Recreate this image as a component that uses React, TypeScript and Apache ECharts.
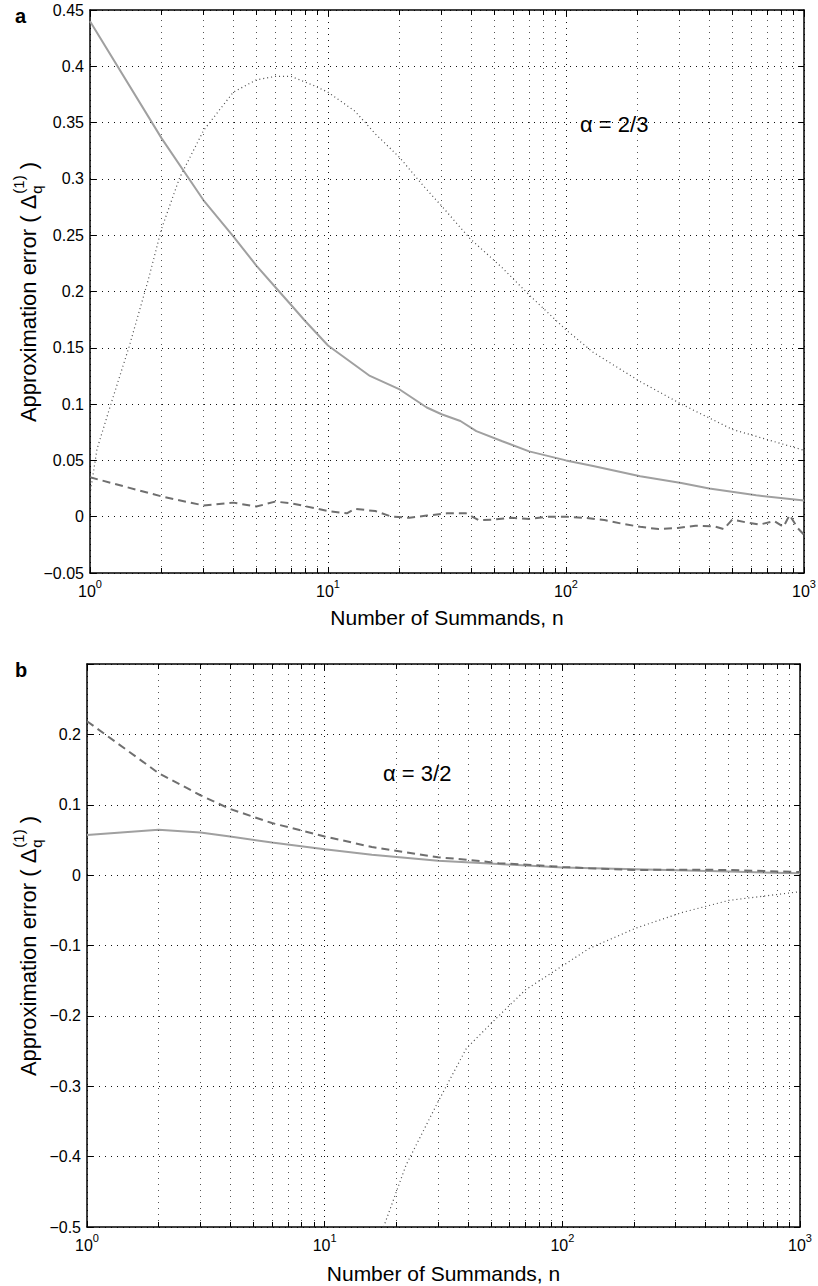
import React, { useEffect, useRef } from "react";
import * as echarts from "echarts";

// ---------------- Data ----------------
// Panel a : alpha = 2/3
const aSolidN = [1, 2, 3, 4, 5, 6, 7, 8, 10, 15, 20, 26, 30, 36, 42, 54, 70, 100, 130, 205, 305, 400, 630, 1000];
const aSolidV = [0.44, 0.336, 0.281, 0.249, 0.223, 0.204, 0.188, 0.174, 0.152, 0.125, 0.113, 0.097, 0.091, 0.085, 0.076, 0.067, 0.058, 0.05, 0.045, 0.036, 0.03, 0.025, 0.019, 0.0143];

const aDottedN = [1, 1.07, 1.22, 1.46, 1.75, 2, 2.38, 3, 4, 5, 6, 7, 8.7, 10, 13, 15.8, 20, 25, 30, 39.5, 54, 70, 100, 130, 205, 305, 500, 1000];
const aDottedV = [0.02, 0.06, 0.099, 0.151, 0.209, 0.256, 0.301, 0.343, 0.377, 0.388, 0.391, 0.391, 0.383, 0.377, 0.36, 0.34, 0.319, 0.2945, 0.276, 0.247, 0.221, 0.197, 0.166, 0.146, 0.12, 0.1, 0.0775, 0.059];

const aDashedN = [1, 2, 3, 4, 5, 6, 7, 10, 12, 13, 15.8, 18.5, 22, 26, 31.6, 38, 43, 50, 59, 70, 84, 100, 120, 145, 170, 205, 245, 295, 350, 420, 460, 500, 570, 650, 750, 820, 870, 940, 1000];
const aDashedV = [0.035, 0.018, 0.01, 0.0125, 0.009, 0.0134, 0.012, 0.005, 0.003, 0.007, 0.005, 0, -0.001, 0.001, 0.003, 0.003, -0.003, -0.0025, -0.001, -0.002, 0, 0, -0.001, -0.003, -0.006, -0.009, -0.011, -0.01, -0.008, -0.0085, -0.011, -0.0025, -0.005, -0.007, -0.004, -0.009, 0.0015, -0.01, -0.016];

// Panel b : alpha = 3/2
const bSolidN = [1, 2, 3, 4, 6, 10, 15.8, 30, 54, 100, 205, 500, 1000];
const bSolidV = [0.057, 0.0646, 0.0607, 0.0548, 0.0465, 0.0367, 0.029, 0.0205, 0.0157, 0.011, 0.0083, 0.005, 0.0025];

const bDashedN = [1, 2, 3, 4, 6, 10, 15.8, 30, 39.5, 54, 100, 130, 205, 320, 500, 1000];
const bDashedV = [0.2187, 0.145, 0.1135, 0.094, 0.074, 0.055, 0.04, 0.0254, 0.022, 0.017, 0.0117, 0.0098, 0.0073, 0.0078, 0.0073, 0.0044];

const bDottedN = [17.7, 22, 30, 39.5, 54, 70, 100, 130, 205, 320, 500, 1000];
const bDottedV = [-0.5, -0.412, -0.322, -0.246, -0.2, -0.163, -0.129, -0.104, -0.075, -0.053, -0.036, -0.0235];

// Axes
const xMin = 1;
const xMax = 1000;
const minorN = [2, 3, 4, 5, 6, 7, 8, 9, 20, 30, 40, 50, 60, 70, 80, 90, 200, 300, 400, 500, 600, 700, 800, 900];
const aYRange = [-0.05, 0.45];
const aYStep = 0.05;
const bYRange = [-0.5, 0.3];
const bYStep = 0.1;
const xTitle = "Number of Summands, n";
const panelLetters = ["a", "b"];
const alphaLabels = ["\u03b1 = 2/3", "\u03b1 = 3/2"];

// ---------------- Styling ----------------
const FONT = "'Liberation Sans', Arial, Helvetica, sans-serif";
const BLACK = "#000";
const SOLID_COLOR = "#a0a0a0";
const DASH_COLOR = "#6f6f6f";
const DOT_COLOR = "#4a4a4a";

const zip = (n: number[], v: number[]) => n.map((x, i) => [x, v[i]]);

function fmtY(v: number, hideTop?: number) {
  if (hideTop !== undefined && Math.abs(v - hideTop) < 1e-6) return "";
  const r = Math.round(v * 100) / 100;
  if (Math.abs(r) < 1e-9) return "0";
  return String(r).replace("-", "\u2212");
}

function measure(text: string, font: string) {
  const c = document.createElement("canvas").getContext("2d");
  if (!c) return text.length * 10;
  c.font = font;
  return c.measureText(text).width;
}

export default function App() {
  const ref = useRef<HTMLDivElement>(null);

  useEffect(() => {
    if (!ref.current) return;
    const chart = echarts.init(ref.current, undefined, { renderer: "svg" });

    const grids = [
      { left: 90, top: 10, width: 714, height: 563 },
      { left: 87, top: 664, width: 713, height: 563 },
    ];
    const yRanges = [aYRange, bYRange];
    const ySteps = [aYStep, bYStep];
    const nameGaps = [34, 36];
    const tickPx = 5;

    const xAxes: any[] = [];
    const yAxes: any[] = [];
    const series: any[] = [];

    grids.forEach((g, gi) => {
      const [ymin, ymax] = yRanges[gi];
      const hideTop = gi === 1 ? ymax : undefined;
      const axisLine = { show: true, onZero: false, lineStyle: { color: BLACK, width: 1.5 } };
      const axisTick = { show: true, inside: true, length: 6, lineStyle: { color: BLACK, width: 1 } };
      xAxes.push({
        type: "log",
        logBase: 10,
        gridIndex: gi,
        min: xMin,
        max: xMax,
        position: "bottom",
        axisLine,
        axisTick,
        axisLabel: {
          margin: 5,
          formatter: (v: number) => `{b|10}{s|${Math.round(Math.log10(v))}}`,
          rich: {
            b: { fontSize: 16, lineHeight: 26, fontFamily: FONT, color: BLACK },
            s: { fontSize: 11, lineHeight: 12, verticalAlign: "top", fontFamily: FONT, color: BLACK },
          },
        },
        splitLine: { show: true, lineStyle: { type: [1, 5], color: "#111", width: 1 } },
        name: xTitle,
        nameLocation: "middle",
        nameGap: nameGaps[gi],
        nameTextStyle: { fontSize: 21, fontFamily: FONT, color: BLACK },
      });
      xAxes.push({
        type: "log",
        logBase: 10,
        gridIndex: gi,
        min: xMin,
        max: xMax,
        position: "top",
        axisLine,
        axisTick,
        axisLabel: { show: false },
        splitLine: { show: false },
      });
      yAxes.push({
        type: "value",
        gridIndex: gi,
        min: ymin,
        max: ymax,
        interval: ySteps[gi],
        position: "left",
        axisLine,
        axisTick,
        axisLabel: {
          margin: 6,
          fontSize: 16,
          fontFamily: FONT,
          color: BLACK,
          formatter: (v: number) => fmtY(v, hideTop),
        },
        splitLine: { show: true, lineStyle: { type: [1, 5], color: "#111", width: 1 } },
      });
      yAxes.push({
        type: "value",
        gridIndex: gi,
        min: ymin,
        max: ymax,
        interval: ySteps[gi],
        position: "right",
        axisLine,
        axisTick,
        axisLabel: { show: false },
        splitLine: { show: false },
      });

      const tick = ((ymax - ymin) / g.height) * tickPx;
      const minorGrid = minorN.map((n) => ({
        xAxis: n,
        lineStyle: { type: [1, 5], color: "#555", width: 1 },
      }));
      const minorTicksBottom = minorN.map((n) => [
        { coord: [n, ymin], lineStyle: { type: "solid", color: BLACK, width: 1 } },
        { coord: [n, ymin + tick] },
      ]);
      const minorTicksTop = minorN.map((n) => [
        { coord: [n, ymax], lineStyle: { type: "solid", color: BLACK, width: 1 } },
        { coord: [n, ymax - tick] },
      ]);
      series.push({
        type: "line",
        name: "grid" + gi,
        xAxisIndex: gi * 2,
        yAxisIndex: gi * 2,
        data: [],
        silent: true,
        z: 1,
        markLine: {
          silent: true,
          symbol: ["none", "none"],
          label: { show: false },
          emphasis: { disabled: true },
          animation: false,
          data: [...minorGrid, ...minorTicksBottom, ...minorTicksTop],
        },
      });
    });

    const lineBase = {
      type: "line",
      symbol: "none",
      showSymbol: false,
      silent: true,
      z: 3,
    };
    // panel a
    series.push({ ...lineBase, name: "a-solid", xAxisIndex: 0, yAxisIndex: 0, data: zip(aSolidN, aSolidV), lineStyle: { color: SOLID_COLOR, width: 2 } });
    series.push({ ...lineBase, name: "a-dotted", xAxisIndex: 0, yAxisIndex: 0, data: zip(aDottedN, aDottedV), lineStyle: { color: DOT_COLOR, width: 1.2, type: [1, 3] } });
    series.push({ ...lineBase, name: "a-dashed", xAxisIndex: 0, yAxisIndex: 0, data: zip(aDashedN, aDashedV), lineStyle: { color: DASH_COLOR, width: 2, type: [8, 5] } });
    // panel b
    series.push({ ...lineBase, name: "b-solid", xAxisIndex: 2, yAxisIndex: 2, data: zip(bSolidN, bSolidV), lineStyle: { color: SOLID_COLOR, width: 2 } });
    series.push({ ...lineBase, name: "b-dashed", xAxisIndex: 2, yAxisIndex: 2, data: zip(bDashedN, bDashedV), lineStyle: { color: DASH_COLOR, width: 2, type: [8, 5] } });
    series.push({ ...lineBase, name: "b-dotted", xAxisIndex: 2, yAxisIndex: 2, data: zip(bDottedN, bDottedV), lineStyle: { color: DOT_COLOR, width: 1.2, type: [1, 3] } });

    // y-axis titles with stacked sub/superscript
    const MAIN_PX = 22;
    const SCRIPT_PX = 15;
    const mainFont = `${MAIN_PX}px ${FONT}`;
    const scriptFont = `${SCRIPT_PX}px ${FONT}`;
    const mainText = "Approximation error ( \u0394";
    const wMain = measure(mainText, `${MAIN_PX}px 'Liberation Sans'`);
    const wScript = Math.max(measure("(1)", `${SCRIPT_PX}px 'Liberation Sans'`), measure("q", `${SCRIPT_PX}px 'Liberation Sans'`));
    const wClose = measure(" )", `${MAIN_PX}px 'Liberation Sans'`);
    const total = wMain + 1 + wScript + wClose;
    const start = -total / 2;
    const yTitle = (cx: number, cy: number) => ({
      type: "group",
      x: cx,
      y: cy,
      rotation: Math.PI / 2,
      silent: true,
      children: [
        { type: "text", x: start, y: 0, style: { text: mainText, font: mainFont, fill: BLACK, textAlign: "left", textVerticalAlign: "middle" } },
        { type: "text", x: start + wMain + 1, y: -10, style: { text: "(1)", font: scriptFont, fill: BLACK, textAlign: "left", textVerticalAlign: "middle" } },
        { type: "text", x: start + wMain + 1, y: 8, style: { text: "q", font: scriptFont, fill: BLACK, textAlign: "left", textVerticalAlign: "middle" } },
        { type: "text", x: start + wMain + 1 + wScript, y: 0, style: { text: " )", font: mainFont, fill: BLACK, textAlign: "left", textVerticalAlign: "middle" } },
      ],
    });

    const graphic: any[] = [
      { type: "text", x: 15, y: 16, silent: true, style: { text: panelLetters[0], font: `bold 20px ${FONT}`, fill: BLACK, textVerticalAlign: "middle" } },
      { type: "text", x: 15, y: 670, silent: true, style: { text: panelLetters[1], font: `bold 20px ${FONT}`, fill: BLACK, textVerticalAlign: "middle" } },
      { type: "text", x: 580, y: 124, silent: true, style: { text: alphaLabels[0], font: `22px ${FONT}`, fill: BLACK, textVerticalAlign: "middle" } },
      { type: "text", x: 383, y: 773, silent: true, style: { text: alphaLabels[1], font: `22px ${FONT}`, fill: BLACK, textVerticalAlign: "middle" } },
      yTitle(28, 292),
      yTitle(28, 946),
    ];

    chart.setOption({
      animation: false,
      backgroundColor: "#fff",
      textStyle: { fontFamily: FONT },
      grid: grids.map((g) => ({ ...g, containLabel: false, outerBoundsMode: "none" })),
      xAxis: xAxes,
      yAxis: yAxes,
      series,
      graphic,
    });

    return () => chart.dispose();
  }, []);

  return (
    <div
      ref={ref}
      style={{ position: "fixed", left: 0, top: 0, width: 818, height: 1286, background: "#fff" }}
    />
  );
}
